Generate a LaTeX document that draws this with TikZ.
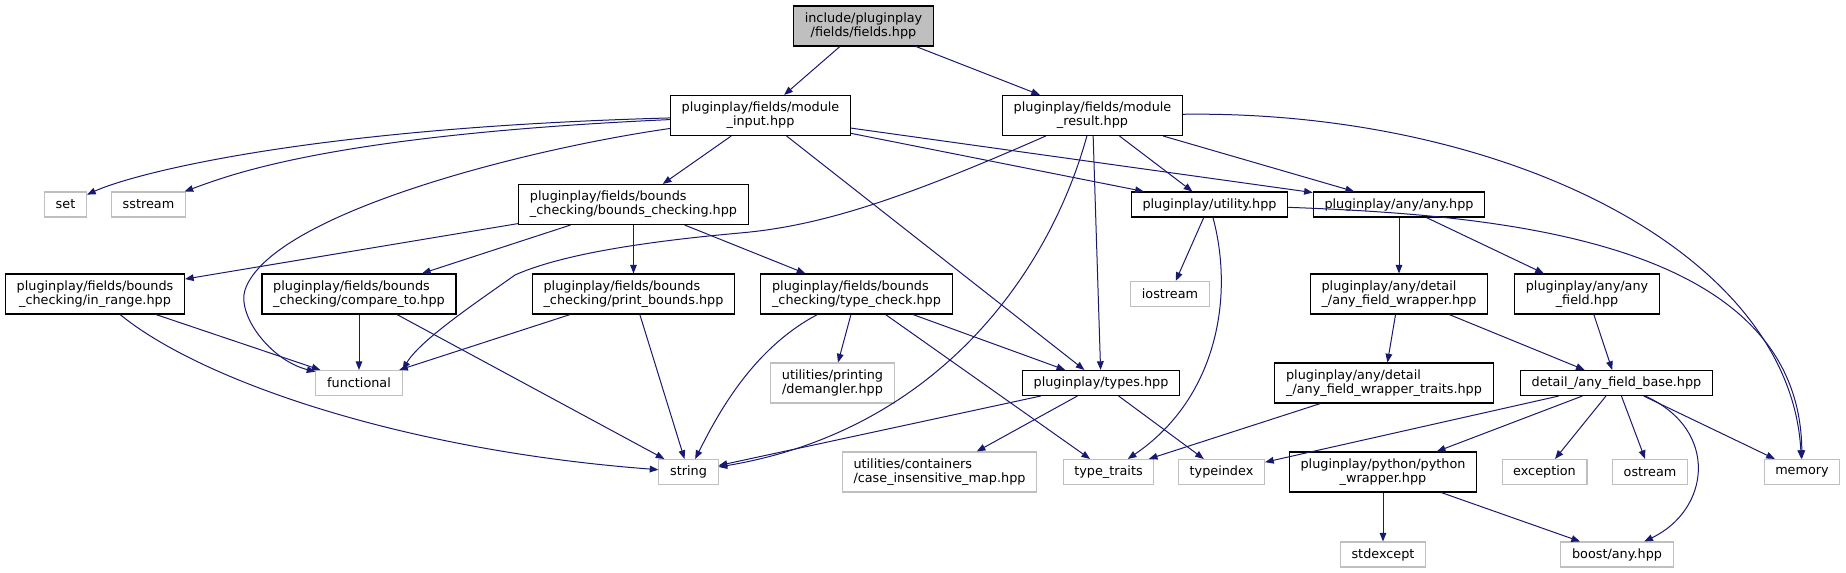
\documentclass[tikz,border=0pt]{standalone}
\usepackage{fontspec}
\setmainfont{DejaVu Sans}
\usetikzlibrary{arrows.meta}
\definecolor{edgeblue}{HTML}{191970}
\definecolor{grey75}{HTML}{BFBFBF}

\begin{document}
\begin{tikzpicture}[x=0.75pt, y=0.75pt,
  file/.style={draw, line width=0.8pt, fill=white, inner xsep=8.4pt, inner ysep=1pt,
    minimum height=18.75pt, align=center, font=\fontsize{9.6}{10.5}\selectfont},
  ext/.style={file, draw=grey75},
  two/.style={minimum height=30pt},
  dep/.style={draw=edgeblue, line width=0.75pt, -{Triangle[length=6.5pt,width=5pt]}}]
\useasboundingbox (0,0) rectangle (1846,-573);

% headers of the project
\node[file, two, fill=grey75] (root) at (863.5,-26) {include/pluginplay\\/fields/fields.hpp};
\node[file, two] (minput)  at (760.5,-115.5)  {pluginplay/fields/module\\\_input.hpp};
\node[file, two] (mresult) at (1092.5,-115.5) {pluginplay/fields/module\\\_result.hpp};
\node[file, two, align=left] (bcheck) at (633.5,-204.5) {pluginplay/fields/bounds\\\_checking/bounds\_checking.hpp};
\node[file] (utility) at (1209.5,-204.5) {pluginplay/utility.hpp};
\node[file] (anyh)    at (1399,-204.5)   {pluginplay/any/any.hpp};
\node[file, two] (inrange) at (95,-294) {pluginplay/fields/bounds\\\_checking/in\_range.hpp};
\node[file, two, align=left] (compare) at (359,-294) {pluginplay/fields/bounds\\\_checking/compare\_to.hpp};
\node[file, two, align=left] (printb)  at (633.5,-294) {pluginplay/fields/bounds\\\_checking/print\_bounds.hpp};
\node[file, two, align=left] (typechk) at (856.5,-294) {pluginplay/fields/bounds\\\_checking/type\_check.hpp};
\node[file, two, align=left] (wrapper) at (1399,-294) {pluginplay/any/detail\\\_/any\_field\_wrapper.hpp};
\node[file, two] (anyfield) at (1587,-294) {pluginplay/any/any\\\_field.hpp};
\node[file] (types) at (1101,-383) {pluginplay/types.hpp};
\node[file, two, align=left] (traits) at (1384,-383) {pluginplay/any/detail\\\_/any\_field\_wrapper\_traits.hpp};
\node[file] (fbase) at (1616.5,-383) {detail\_/any\_field\_base.hpp};
\node[file, two] (python) at (1383,-472) {pluginplay/python/python\\\_wrapper.hpp};

% system and external headers
\node[ext] (set)      at (65.5,-204.5)  {set};
\node[ext] (sstream)  at (148.5,-204.5) {sstream};
\node[ext] (iostream) at (1170,-294)    {iostream};
\node[ext] (functional) at (359,-383)   {functional};
\node[ext, two] (demangler) at (832.5,-383) {utilities/printing\\/demangler.hpp};
\node[ext] (string)   at (688.5,-472)   {string};
\node[ext, two, align=left] (casemap) at (939.5,-472) {utilities/containers\\/case\_insensitive\_map.hpp};
\node[ext] (typetr)   at (1108.5,-472)  {type\_traits};
\node[ext] (typeidx)  at (1221.5,-472)  {typeindex};
\node[ext] (exception) at (1544.5,-472) {exception};
\node[ext] (ostream)  at (1650,-472)    {ostream};
\node[ext] (memory)   at (1802,-472)    {memory};
\node[ext] (stdexcept) at (1383,-554.5) {stdexcept};
\node[ext] (boostany) at (1617,-554.5)  {boost/any.hpp};

% includes
\draw[dep] (root) -- (minput);
\draw[dep] (root) -- (mresult);
\draw[dep] (minput) .. controls (300,-128) and (130,-175) .. (set);
\draw[dep] (minput) .. controls (330,-135) and (230,-175) .. (sstream);
\draw[dep] (minput) .. controls (520,-150) and (270,-215) .. (245,-290)
  .. controls (237,-315) and (270,-360) .. (functional);
\draw[dep] (minput) -- (bcheck);
\draw[dep] (minput) -- (types);
\draw[dep] (minput) -- (utility);
\draw[dep] (minput) -- (anyh);
\draw[dep] (mresult) .. controls (900,-200) and (820,-226) .. (740,-233)
  .. controls (640,-242) and (560,-255) .. (515,-275)
  .. controls (480,-300) and (420,-340) .. (functional.north east);
\draw[dep] (mresult) .. controls (1050,-270) and (940,-430) .. (string);
\draw[dep] (mresult) -- (types);
\draw[dep] (mresult) -- (utility);
\draw[dep] (mresult) -- (anyh);
\draw[dep] (mresult) .. controls (1500,-110) and (1790,-250) .. (memory);
\draw[dep] (bcheck) -- (inrange);
\draw[dep] (bcheck) -- (compare);
\draw[dep] (bcheck) -- (printb);
\draw[dep] (bcheck) -- (typechk);
\draw[dep] (inrange) -- (functional);
\draw[dep] (inrange) .. controls (200,-380) and (400,-450) .. (string);
\draw[dep] (compare) -- (functional);
\draw[dep] (compare) -- (string);
\draw[dep] (printb) -- (functional);
\draw[dep] (printb) -- (string);
\draw[dep] (typechk) .. controls (750,-350) and (715,-420) .. (string);
\draw[dep] (typechk) -- (demangler);
\draw[dep] (typechk) -- (types);
\draw[dep] (typechk) -- (typetr);
\draw[dep] (utility) -- (iostream);
\draw[dep] (utility) .. controls (1235,-300) and (1215,-400) .. (typetr);
\draw[dep] (utility) .. controls (1500,-215) and (1800,-240) .. (memory);
\draw[dep] (anyh) -- (wrapper);
\draw[dep] (anyh) -- (anyfield);
\draw[dep] (wrapper) -- (traits);
\draw[dep] (wrapper) -- (fbase);
\draw[dep] (anyfield) -- (fbase);
\draw[dep] (types) -- (string);
\draw[dep] (types) -- (casemap);
\draw[dep] (types) -- (typeidx);
\draw[dep] (traits) -- (typetr);
\draw[dep] (fbase) -- (typeidx);
\draw[dep] (fbase) -- (python);
\draw[dep] (fbase) -- (exception);
\draw[dep] (fbase) -- (ostream);
\draw[dep] (fbase) .. controls (1720,-430) and (1710,-510) .. (boostany);
\draw[dep] (fbase) -- (memory);
\draw[dep] (python) -- (stdexcept);
\draw[dep] (python) -- (boostany);
\end{tikzpicture}
\end{document}
